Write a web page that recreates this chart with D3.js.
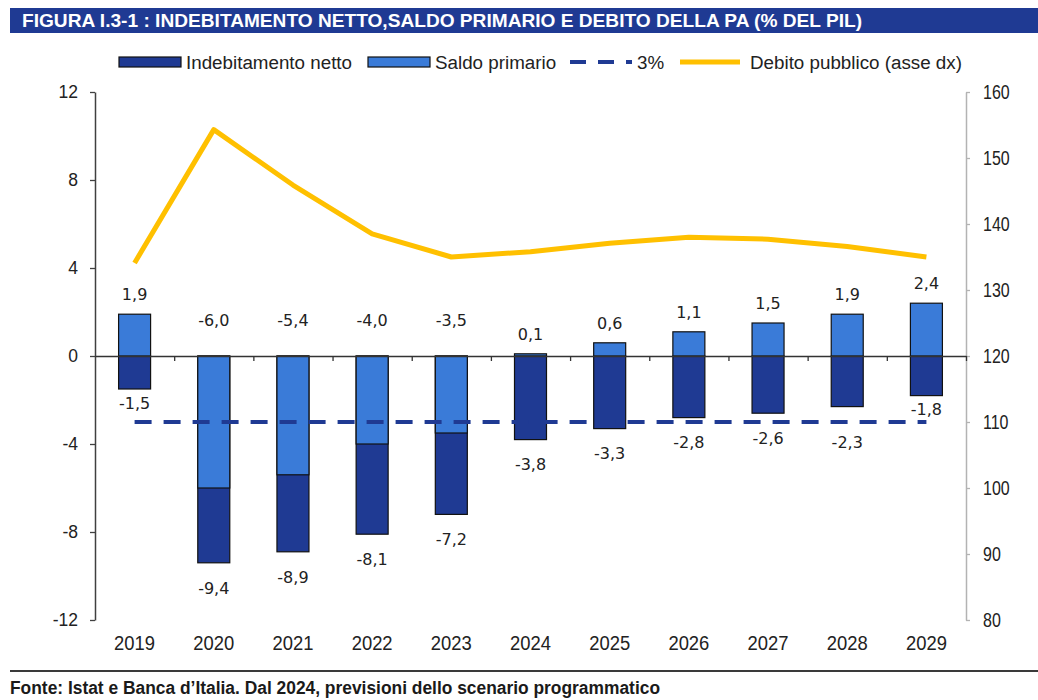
<!DOCTYPE html>
<html>
<head>
<meta charset="utf-8">
<script src="https://cdn.jsdelivr.net/npm/d3@7"></script>
<style>
  body { margin: 0; background: #fff; }
  svg { display: block; }
</style>
</head>
<body>
<script>
// data
var years = ["2019", "2020", "2021", "2022", "2023", "2024", "2025", "2026", "2027", "2028", "2029"];
var indebitamento = [-1.5, -9.4, -8.9, -8.1, -7.2, -3.8, -3.3, -2.8, -2.6, -2.3, -1.8];
var saldoPrimario = [1.9, -6.0, -5.4, -4.0, -3.5, 0.1, 0.6, 1.1, 1.5, 1.9, 2.4];
var debito = [134.1, 154.3, 145.9, 138.5, 135.0, 135.8, 137.1, 138.0, 137.7, 136.6, 135.0];
var soglia = -3;
var leftTicks = [-12, -8, -4, 0, 4, 8, 12];
var rightTicks = [80, 90, 100, 110, 120, 130, 140, 150, 160];
var legendLabels = ["Indebitamento netto", "Saldo primario", "3%", "Debito pubblico (asse dx)"];
var titleText = "FIGURA I.3-1 : INDEBITAMENTO NETTO,SALDO PRIMARIO E DEBITO DELLA PA (% DEL PIL)";
var fonteText = "Fonte: Istat e Banca d\u2019Italia. Dal 2024, previsioni dello scenario programmatico";

var darkBlue = "#1f3a93",
    lightBlue = "#3a7bd8",
    gold = "#ffc000";

var arial = "'Liberation Sans', Arial, sans-serif",
    labelFont = "'DejaVu Sans', Verdana, sans-serif";

var W = 1038, H = 700;
var plot = {left: 95, right: 966, top: 92, bottom: 620};

var it = d3.formatLocale({decimal: ",", thousands: ".", grouping: [3], currency: ["", "\u20ac"], minus: "-"});
var fmt1 = it.format(".1f"),
    fmt0 = it.format("d");

// narrow look: squeeze Arial-like text horizontally
function squash(sel, k) {
    sel.each(function() {
        var w = this.getComputedTextLength();
        d3.select(this).attr("textLength", w * k).attr("lengthAdjust", "spacingAndGlyphs");
    });
}

var svg = d3.select("body").append("svg")
    .attr("width", W)
    .attr("height", H);

// scales
var x = d3.scaleBand().domain(years).range([plot.left, plot.right]).padding(0);
var xEdges = d3.scaleLinear().domain([0, years.length]).range([plot.left, plot.right]);
var yL = d3.scaleLinear().domain([-12, 12]).range([plot.bottom, plot.top]);
var yR = d3.scaleLinear().domain([80, 160]).range([plot.bottom, plot.top]);
var barW = 32;
function cx(i) { return x(years[i]) + x.bandwidth() / 2; }

// title band
svg.append("rect")
    .attr("x", 10).attr("y", 8)
    .attr("width", W - 10).attr("height", 25)
    .attr("fill", darkBlue);
svg.append("text")
    .attr("x", 22).attr("y", 27)
    .attr("fill", "#fff")
    .attr("font-family", arial)
    .attr("font-weight", "bold")
    .attr("font-size", "19px")
    .text(titleText)
    .attr("textLength", 840)
    .attr("lengthAdjust", "spacingAndGlyphs");

// bars: net borrowing first, primary balance on top
svg.append("g").selectAll("rect")
    .data(indebitamento)
    .enter().append("rect")
    .attr("x", function(d, i) { return cx(i) - barW / 2; })
    .attr("y", function(d) { return yL(Math.max(0, d)); })
    .attr("width", barW)
    .attr("height", function(d) { return Math.abs(yL(d) - yL(0)); })
    .attr("fill", darkBlue)
    .attr("stroke", "#111")
    .attr("stroke-width", 1.2);

svg.append("g").selectAll("rect")
    .data(saldoPrimario)
    .enter().append("rect")
    .attr("x", function(d, i) { return cx(i) - barW / 2; })
    .attr("y", function(d) { return yL(Math.max(0, d)); })
    .attr("width", barW)
    .attr("height", function(d) { return Math.abs(yL(d) - yL(0)); })
    .attr("fill", lightBlue)
    .attr("stroke", "#111")
    .attr("stroke-width", 1.2);

// left axis
var gL = svg.append("g")
    .attr("transform", "translate(" + plot.left + ",0)")
    .call(d3.axisLeft(yL).tickValues(leftTicks).tickSize(5).tickSizeOuter(0).tickPadding(12).tickFormat(fmt0));
gL.select(".domain").attr("stroke", "#404040").attr("stroke-width", 1.5);
gL.selectAll(".tick line").attr("stroke", "#404040").attr("stroke-width", 1.3);
gL.selectAll("text").attr("font-family", arial).attr("font-size", "17.5px").attr("fill", "#222");

// right axis
var gR = svg.append("g")
    .attr("transform", "translate(" + plot.right + ",0)")
    .call(d3.axisRight(yR).tickValues(rightTicks).tickSize(4).tickSizeOuter(0).tickPadding(13).tickFormat(fmt0));
gR.select(".domain").attr("stroke", "#b3b3b3").attr("stroke-width", 1.5);
gR.selectAll(".tick line").attr("stroke", "#b3b3b3").attr("stroke-width", 1.3);
gR.selectAll("text").attr("font-family", arial).attr("font-size", "19.5px").attr("fill", "#222");
squash(gR.selectAll("text"), 0.82);

// zero line with category separators
var gZ = svg.append("g")
    .attr("transform", "translate(0," + yL(0) + ")")
    .call(d3.axisBottom(xEdges).tickValues(d3.range(1, years.length + 1)).tickSize(5).tickSizeOuter(0).tickFormat(""));
gZ.select(".domain").attr("stroke", "#333").attr("stroke-width", 1.5);
gZ.selectAll(".tick line").attr("stroke", "#333").attr("stroke-width", 1.3);

// year labels
var gX = svg.append("g")
    .attr("transform", "translate(0," + plot.bottom + ")")
    .call(d3.axisBottom(x).tickSize(0).tickPadding(16));
gX.select(".domain").remove();
gX.selectAll("text").attr("font-family", arial).attr("font-size", "20px").attr("fill", "#222");
squash(gX.selectAll("text"), 0.92);

// 3% threshold
svg.append("line")
    .attr("x1", cx(0)).attr("x2", cx(years.length - 1))
    .attr("y1", yL(soglia)).attr("y2", yL(soglia))
    .attr("stroke", darkBlue)
    .attr("stroke-width", 4)
    .attr("stroke-dasharray", "17,12");

// public debt (right axis)
var line = d3.line()
    .x(function(d, i) { return cx(i); })
    .y(function(d) { return yR(d); });
svg.append("path")
    .datum(debito)
    .attr("d", line)
    .attr("fill", "none")
    .attr("stroke", gold)
    .attr("stroke-width", 5)
    .attr("stroke-linejoin", "round");

// data labels
var yLine = yL(soglia);
function netLabelY(v) {
    var b = yL(v), y = b + 25;
    if (Math.abs(y - yLine) < 14) y = v > -2 ? b + 14 : yLine + 20;
    return y;
}
svg.append("g").selectAll("text")
    .data(indebitamento)
    .enter().append("text")
    .attr("x", function(d, i) { return cx(i); })
    .attr("y", function(d) { return netLabelY(d); })
    .attr("dy", "0.36em")
    .attr("text-anchor", "middle")
    .attr("font-family", labelFont)
    .attr("font-size", "16px")
    .attr("fill", "#222")
    .text(function(d) { return fmt1(d); });

svg.append("g").selectAll("text")
    .data(saldoPrimario)
    .enter().append("text")
    .attr("x", function(d, i) { return cx(i); })
    .attr("y", function(d) { return d > 0 ? yL(d) - 20 : yL(0) - 36; })
    .attr("dy", "0.36em")
    .attr("text-anchor", "middle")
    .attr("font-family", labelFont)
    .attr("font-size", "16px")
    .attr("fill", "#222")
    .text(function(d) { return fmt1(d); });

// legend
var legendX = [119, 368, 570, 680];
var lg = svg.append("g").attr("transform", "translate(0,62)");
legendLabels.forEach(function(lab, i) {
    var g = lg.append("g").attr("transform", "translate(" + legendX[i] + ",0)");
    if (i < 2) {
        g.append("rect")
            .attr("x", 0).attr("y", -5)
            .attr("width", 62).attr("height", 10)
            .attr("fill", i === 0 ? darkBlue : lightBlue)
            .attr("stroke", "#111").attr("stroke-width", 1.2);
    } else {
        g.append("line")
            .attr("x1", 0).attr("x2", i === 2 ? 62 : 60)
            .attr("stroke", i === 2 ? darkBlue : gold)
            .attr("stroke-width", i === 2 ? 4 : 5)
            .attr("stroke-dasharray", i === 2 ? "16,12" : null);
    }
    g.append("text")
        .attr("x", i === 3 ? 70 : 67)
        .attr("dy", "0.36em")
        .attr("font-family", arial)
        .attr("font-size", "18.8px")
        .attr("fill", "#222")
        .text(lab);
});

// source footer
svg.append("line")
    .attr("x1", 10).attr("x2", W)
    .attr("y1", 671).attr("y2", 671)
    .attr("stroke", "#3a3a3a").attr("stroke-width", 2);
svg.append("text")
    .attr("x", 10).attr("y", 694)
    .attr("font-family", arial)
    .attr("font-weight", "bold")
    .attr("font-size", "17.5px")
    .attr("fill", "#1a1a1a")
    .text(fonteText)
    .attr("textLength", 650)
    .attr("lengthAdjust", "spacingAndGlyphs");
</script>
</body>
</html>
